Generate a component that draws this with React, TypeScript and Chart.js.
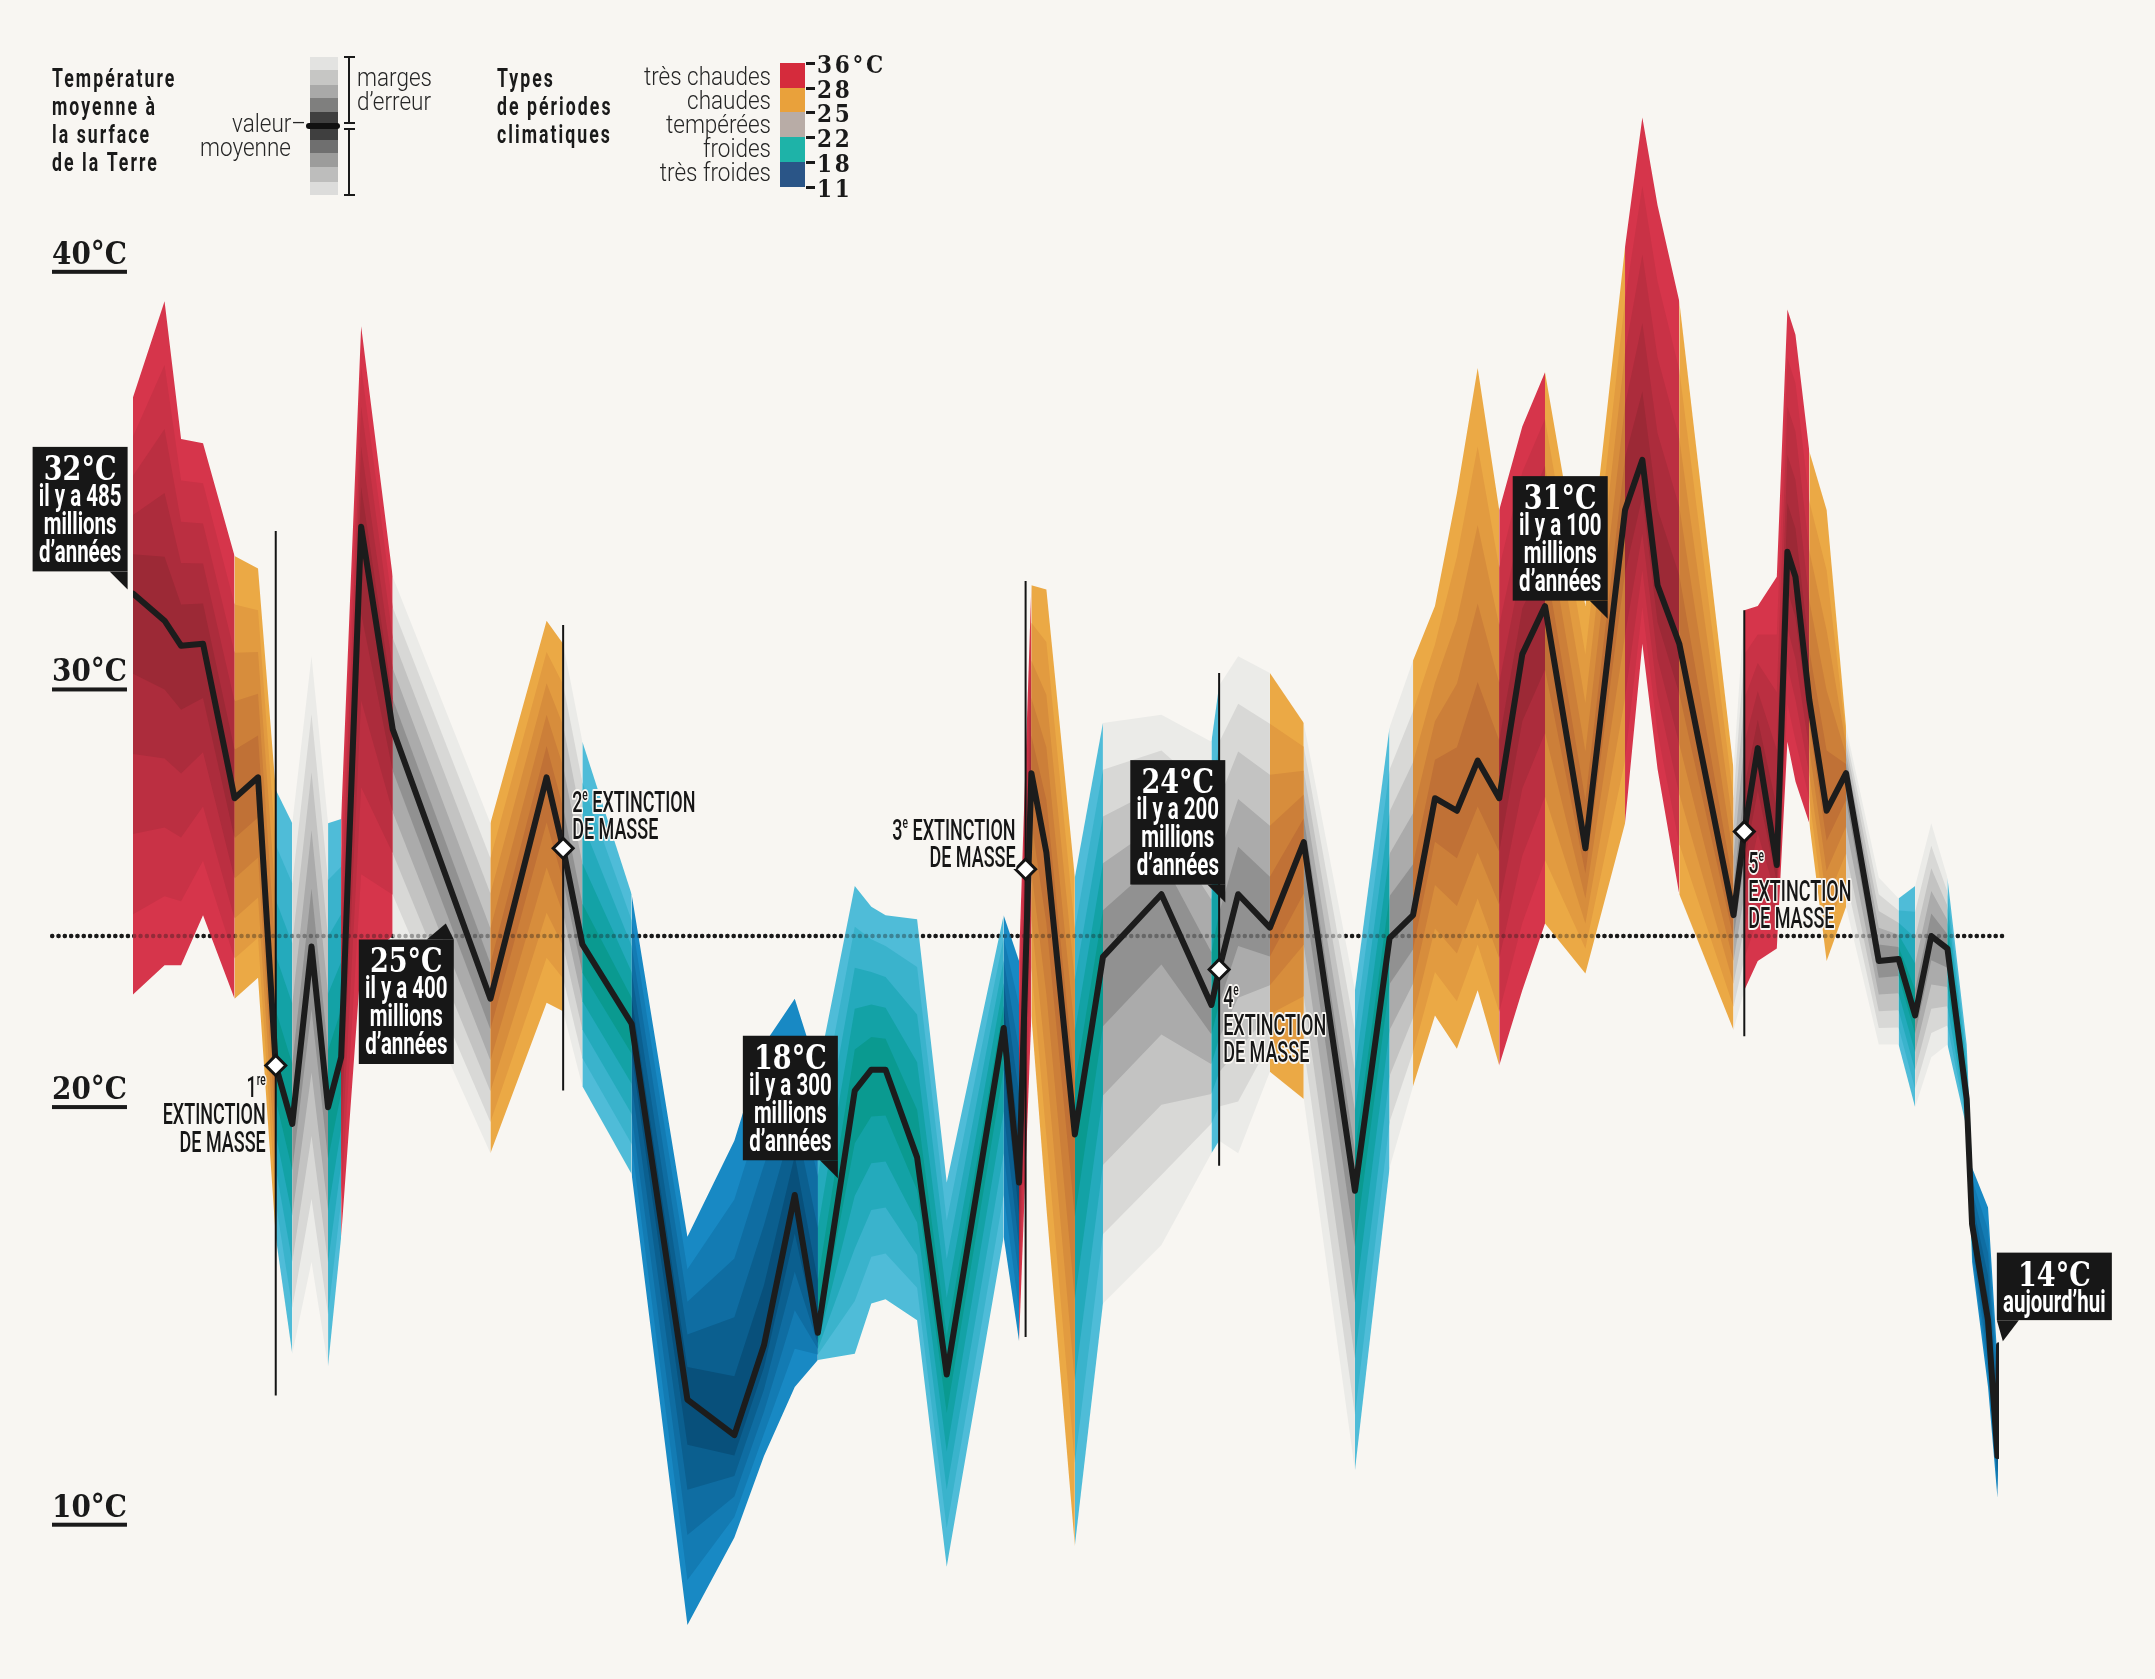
import React, { useEffect, useRef } from "react";
import { Chart, registerables } from "chart.js";

Chart.register(...registerables);

// ---------------- DATA ----------------
// Age in millions of years before present
const ages = [
  485.0, 476.8, 472.5, 466.8, 458.6, 452.5, 447.9, 443.6, 438.6, 434.3,
  430.9, 425.7, 417.5, 392.1, 377.5, 373.2, 368.2, 355.4, 340.9, 328.7,
  321.0, 313.0, 307.0, 297.4, 293.1, 289.4, 281.2, 273.5, 258.7, 254.7,
  251.5, 247.6, 240.2, 232.9, 217.7, 204.7, 202.7, 197.75, 189.5, 180.7,
  167.4, 158.4, 152.3, 146.6, 140.9, 135.5, 129.9, 123.9, 118.0, 107.5,
  97.2, 92.7, 88.75, 83.1, 69.0, 66.2, 62.7, 57.75, 55.0, 52.9,
  49.3, 44.8, 39.75, 31.25, 26.1, 21.8, 17.6, 13.4, 8.4, 7.0,
  2.85, 0.4, 0,
];
// Mean surface temperature (°C)
const temps = [
  32.2, 31.55, 30.95, 31.0, 27.3, 27.8, 20.9, 19.5, 23.75, 19.9,
  21.1, 33.8, 28.95, 22.5, 27.8, 26.1, 23.8, 21.9, 12.9, 12.05,
  14.2, 17.8, 14.5, 20.3, 20.8, 20.8, 18.7, 13.5, 21.8, 18.1,
  27.9, 26.0, 19.25, 23.5, 25.0, 22.35, 23.2, 25.0, 24.2, 26.25,
  17.9, 23.95, 24.5, 27.3, 27.0, 28.2, 27.3, 30.75, 31.9, 26.1,
  34.2, 35.4, 32.4, 31.0, 24.5, 26.5, 28.5, 25.7, 33.2, 32.6,
  29.65, 27.0, 27.9, 23.4, 23.45, 22.1, 24.0, 23.7, 20.1, 17.1,
  14.8, 11.55, 14.2,
];
// Upper error margin (°C)
const upperBound = [
  36.9, 39.2, 35.9, 35.8, 33.1, 32.8, 27.5, 26.7, 30.7, 26.7,
  26.8, 38.6, 32.6, 26.7, 31.55, 31.0, 28.65, 25.0, 16.8, 19.1,
  21.4, 22.5, 20.75, 25.2, 24.7, 24.5, 24.4, 18.1, 24.5, 23.4,
  32.4, 32.3, 25.4, 29.1, 29.3, 28.65, 30.0, 30.7, 30.3, 29.1,
  22.7, 29.0, 30.6, 31.9, 34.6, 37.6, 34.2, 36.2, 37.5, 31.9,
  40.5, 43.6, 41.5, 39.2, 28.0, 31.8, 31.9, 32.6, 39.0, 38.4,
  35.6, 34.2, 29.0, 25.4, 24.9, 25.2, 26.7, 25.4, 21.4, 18.45,
  17.5, 13.85, 14.2,
];
// Lower error margin (°C)
const lowerBound = [
  22.6, 23.3, 23.3, 24.5, 22.5, 23.0, 16.8, 14.0, 16.2, 13.7,
  16.8, 23.4, 24.0, 18.8, 22.4, 22.2, 20.4, 18.3, 7.5, 9.6,
  11.55, 13.2, 13.85, 14.0, 15.2, 15.3, 14.8, 8.9, 16.8, 14.3,
  22.1, 17.5, 9.4, 15.2, 16.6, 18.8, 19.1, 18.8, 20.75, 20.1,
  11.2, 18.45, 20.4, 22.1, 21.3, 22.7, 20.9, 22.7, 24.3, 23.1,
  26.7, 31.0, 28.0, 25.0, 21.75, 22.7, 23.4, 23.7, 28.65, 27.7,
  26.7, 23.4, 24.7, 21.4, 21.4, 19.9, 21.1, 21.4, 19.4, 16.2,
  13.2, 10.55, 14.2,
];
// Climate type of each segment (tc = très chaud, c = chaud, t = tempéré, f = froid, tf = très froid)
const periods = [
  "tc", "tc", "tc", "tc", "c", "c", "f", "t", "t", "f",
  "tc", "tc", "t", "c", "c", "t", "f", "tf", "tf", "tf",
  "tf", "tf", "f", "f", "f", "f", "f", "f", "tf", "tc",
  "c", "c", "f", "t", "t", "f", "t", "t", "c", "t",
  "f", "t", "c", "c", "c", "c", "tc", "tc", "c", "c",
  "tc", "tc", "tc", "c", "t", "tc", "tc", "tc", "tc", "tc",
  "c", "c", "t", "t", "f", "t", "t", "f", "f", "tf",
  "tf", "tf",
];

const yTicks = [40, 30, 20, 10];
const referenceTemp = 24;
const referenceSpan = [506, -1];

const extinctionAges = [447.9, 373.2, 253.0, 202.7, 66.2];
const extinctionTemps = [20.9, 26.1, 25.6, 23.2, 26.5];
const extinctionTops = [33.7, 31.45, 32.5, 30.3, 31.8];
const extinctionBottoms = [13.0, 20.3, 14.4, 18.5, 21.6];
const extinctionOrdinals = ["1", "2", "3", "4", "5"];
const extinctionSup = ["re", "e", "e", "e", "e"];
const extLabelAlign = ["right", "left", "right", "left", "left"];
const extLabelStacked = [true, false, false, true, true];
const extLabelTemps = [20.15, 26.97, 26.3, 22.3, 25.5];

const calloutTemps = ["32°C", "25°C", "18°C", "24°C", "31°C", "14°C"];
const calloutLines = [
  ["il y a 485", "millions", "d’années"],
  ["il y a 400", "millions", "d’années"],
  ["il y a 300", "millions", "d’années"],
  ["il y a 200", "millions", "d’années"],
  ["il y a 100", "millions", "d’années"],
  ["aujourd’hui"],
];
const calloutTipAges = [486.4, 403.7, 301.8, 201.1, 101.7, -1.0];
const calloutTipTemps = [32.3, 24.3, 18.2, 24.8, 31.6, 14.3];
const calloutPointer = ["br", "tr", "br", "br", "br", "bl"];

const legendTitle1 = ["Température", "moyenne à", "la surface", "de la Terre"];
const legendTitle2 = ["Types", "de périodes", "climatiques"];
const periodNames = ["très chaudes", "chaudes", "tempérées", "froides", "très froides"];
const periodLimits = ["36°C", "28", "25", "22", "18", "11"];

// ---------------- STYLE ----------------
const W = 2155;
const H = 1679;
const BG = "#f8f6f2";
const INK = "#1a1a1a";
const SHADES: Record<string, string[]> = {
  tc: ["#d6354b", "#c93246", "#bb2f41", "#ac2c3c", "#9c2936"],
  c: ["#eba945", "#e29b40", "#d78d3c", "#cc7f39", "#c07136"],
  t: ["#ebebe8", "#d8d8d6", "#c3c3c2", "#ababab", "#919191"],
  f: ["#4fbcd8", "#3ab3cc", "#24aabc", "#13a2a6", "#0a9a90"],
  tf: ["#1889c4", "#137bb3", "#0f6da2", "#0b5f8f", "#08507b"],
};
const LEGEND_COLORS = ["#d52b3c", "#e9a13b", "#b8aca6", "#1eb3a8", "#2a5587"];
const FRACTIONS = [1, 0.8, 0.6, 0.4, 0.2];

const SERIF = (px: number) => `bold ${px}px "DejaVu Serif"`;
const SANS = (w: number, px: number) => `${w} ${px}px Roboto, "Liberation Sans", sans-serif`;

function drawText(
  ctx: CanvasRenderingContext2D, s: string, x: number, y: number, font: string, color: string,
  align: CanvasTextAlign = "left", sx = 1, spacing = 0, outline = 0
) {
  ctx.save();
  ctx.font = font;
  (ctx as any).letterSpacing = spacing ? `${spacing}px` : "0px";
  ctx.textAlign = align;
  ctx.textBaseline = "alphabetic";
  ctx.translate(x, y);
  ctx.scale(sx, 1);
  if (outline) {
    ctx.strokeStyle = BG;
    ctx.lineWidth = outline;
    ctx.lineJoin = "round";
    ctx.strokeText(s, 0, 0);
  }
  ctx.fillStyle = color;
  ctx.fillText(s, 0, 0);
  ctx.restore();
}

function textWidth(ctx: CanvasRenderingContext2D, s: string, font: string, sx = 1, spacing = 0) {
  ctx.save();
  ctx.font = font;
  (ctx as any).letterSpacing = spacing ? `${spacing}px` : "0px";
  const w = ctx.measureText(s).width * sx;
  ctx.restore();
  return w;
}

type Part = { s: string; sup?: boolean };
function drawRich(ctx: CanvasRenderingContext2D, parts: Part[], x: number, y: number, align: string) {
  const F = SANS(500, 30);
  const FS = SANS(500, 17);
  const SX = 0.6;
  const widths = parts.map((p) => textWidth(ctx, p.s, p.sup ? FS : F, SX));
  const total = widths.reduce((a, b) => a + b, 0);
  let cx = align === "right" ? x - total : x;
  parts.forEach((p, i) => {
    drawText(ctx, p.s, cx, p.sup ? y - 12 : y, p.sup ? FS : F, "#161616", "left", SX, 0, 4);
    cx += widths[i];
  });
}

function drawLegend(ctx: CanvasRenderingContext2D) {
  const TITLE = SANS(700, 26);
  const LIGHT = SANS(300, 25);
  legendTitle1.forEach((s, i) => drawText(ctx, s, 52, 87 + i * 28, TITLE, INK, "left", 0.68, 3));
  drawText(ctx, "valeur–", 306, 132, LIGHT, "#262626", "right", 0.9);
  drawText(ctx, "moyenne", 291, 156, LIGHT, "#262626", "right", 0.9);

  const grays = ["#e3e3e1", "#c6c6c4", "#a9a9a8", "#7f7f7e", "#3f3f3f", "#3f3f3f", "#6f6f6f", "#9c9c9b", "#bdbdbc", "#dcdcdb"];
  const edges = [57, 70, 85, 98, 112, 126, 140, 153, 167, 182, 195];
  grays.forEach((g, i) => {
    ctx.fillStyle = g;
    ctx.fillRect(310, edges[i], 28, edges[i + 1] - edges[i]);
  });
  ctx.fillStyle = "#111";
  ctx.beginPath();
  (ctx as any).roundRect ? (ctx as any).roundRect(306, 123, 34, 6, 3) : ctx.rect(306, 123, 34, 6);
  ctx.fill();

  ctx.strokeStyle = INK;
  ctx.lineWidth = 2;
  ctx.beginPath();
  ctx.moveTo(349, 57); ctx.lineTo(349, 123);
  ctx.moveTo(344, 57); ctx.lineTo(355, 57);
  ctx.moveTo(344, 123); ctx.lineTo(355, 123);
  ctx.moveTo(349, 129); ctx.lineTo(349, 195);
  ctx.moveTo(344, 129); ctx.lineTo(355, 129);
  ctx.moveTo(344, 195); ctx.lineTo(355, 195);
  ctx.stroke();
  drawText(ctx, "marges", 357, 86, LIGHT, "#262626", "left", 0.9);
  drawText(ctx, "d’erreur", 357, 110, LIGHT, "#262626", "left", 0.9);

  legendTitle2.forEach((s, i) => drawText(ctx, s, 497, 87 + i * 28, TITLE, INK, "left", 0.68, 3));

  const cEdges = [63, 88, 112, 137, 162, 187];
  periodNames.forEach((s, i) => {
    drawText(ctx, s, 771, 85 + i * 24, LIGHT, "#262626", "right", 0.9);
    ctx.fillStyle = LEGEND_COLORS[i];
    ctx.fillRect(780, cEdges[i], 25, cEdges[i + 1] - cEdges[i]);
  });
  periodLimits.forEach((s, i) => {
    ctx.fillStyle = INK;
    ctx.fillRect(806, cEdges[i] - 1, 9, 3);
    ctx.save();
    ctx.font = SERIF(24);
    (ctx as any).letterSpacing = "3px";
    ctx.textBaseline = "middle";
    ctx.textAlign = "left";
    ctx.translate(817, cEdges[i] + 4);
    ctx.scale(0.9, 1);
    ctx.fillStyle = INK;
    ctx.fillText(s, 0, 0);
    ctx.restore();
  });
}

const annotationPlugin = {
  id: "annotations",
  afterDatasetsDraw(chart: any) {
    const ctx: CanvasRenderingContext2D = chart.ctx;
    const xs = chart.scales.x;
    const ys = chart.scales.y;

    // y labels
    const YF = SERIF(31);
    yTicks.forEach((v) => {
      const py = ys.getPixelForValue(v);
      const label = `${v}°C`;
      const w = textWidth(ctx, label, YF, 0.9);
      drawText(ctx, label, 52, py - 4, YF, INK, "left", 0.9);
      ctx.fillStyle = INK;
      ctx.fillRect(52, py + 2, w, 4);
    });

    // extinction labels
    extinctionAges.forEach((age, i) => {
      const vx = xs.getPixelForValue(age);
      const by = ys.getPixelForValue(extLabelTemps[i]);
      const right = extLabelAlign[i] === "right";
      const lx = right ? vx - 10 : vx + (extLabelStacked[i] ? 4 : 9);
      const lines: Part[][] = extLabelStacked[i]
        ? [[{ s: extinctionOrdinals[i] }, { s: extinctionSup[i], sup: true }], [{ s: "EXTINCTION" }], [{ s: "DE MASSE" }]]
        : [[{ s: extinctionOrdinals[i] }, { s: extinctionSup[i], sup: true }, { s: " EXTINCTION" }], [{ s: "DE MASSE" }]];
      lines.forEach((ln, j) => drawRich(ctx, ln, lx, by + j * 27.5, right ? "right" : "left"));
    });

    // callouts
    const CT = SERIF(33);
    const CS = SANS(700, 31);
    const CSX = 0.66;
    calloutTemps.forEach((t, i) => {
      const tx = xs.getPixelForValue(calloutTipAges[i]);
      const ty = ys.getPixelForValue(calloutTipTemps[i]);
      const lines = calloutLines[i];
      const wMax = Math.max(textWidth(ctx, t, CT, 0.82), ...lines.map((l) => textWidth(ctx, l, CS, CSX)));
      const bw = Math.round(wMax + 12);
      const bh = 39 + lines.length * 28.5;
      let bx = 0;
      let by = 0;
      ctx.fillStyle = "#171717";
      ctx.beginPath();
      const p = calloutPointer[i];
      if (p === "br") {
        bx = tx - bw; by = ty - 18 - bh;
        ctx.moveTo(tx - 18, by + bh); ctx.lineTo(tx, by + bh); ctx.lineTo(tx, ty);
      } else if (p === "tr") {
        bx = tx + 8 - bw; by = ty + 16;
        ctx.moveTo(bx + bw - 27, by); ctx.lineTo(bx + bw, by); ctx.lineTo(tx, ty);
      } else {
        bx = tx - 6; by = ty - 21 - bh;
        ctx.moveTo(bx, by + bh); ctx.lineTo(bx + 22, by + bh); ctx.lineTo(tx, ty);
      }
      ctx.closePath();
      ctx.fill();
      ctx.fillRect(bx, by, bw, bh);
      const cx = bx + bw / 2;
      drawText(ctx, t, cx, by + 33, CT, "#ffffff", "center", 0.82);
      lines.forEach((l, j) => drawText(ctx, l, cx, by + 59 + j * 28, CS, "#ffffff", "center", CSX));
    });

    drawLegend(ctx);
  },
};

function buildDatasets() {
  const datasets: any[] = [];
  // dotted reference line under the bands
  const refData = referenceSpan.map((a) => ({ x: a, y: referenceTemp }));
  datasets.push({
    data: refData, borderColor: "#1a1a1a", borderWidth: 4.5, borderDash: [0.01, 6.3],
    borderCapStyle: "round", pointRadius: 0, fill: false, clip: false, order: 30,
  });
  FRACTIONS.forEach((f, k) => {
    const up = ages.map((a, i) => ({ x: a, y: temps[i] + f * (upperBound[i] - temps[i]) }));
    const lo = ages.map((a, i) => ({ x: a, y: temps[i] - f * (temps[i] - lowerBound[i]) }));
    const upIndex = datasets.length;
    datasets.push({
      data: up, borderWidth: 0, pointRadius: 0, tension: 0,
      backgroundColor: SHADES.t[k],
      fill: upIndex + 1,
      segment: { backgroundColor: (c: any) => SHADES[periods[c.p0DataIndex]][k] },
      order: 10 - k,
    });
    datasets.push({ data: lo, borderWidth: 0, pointRadius: 0, fill: false, order: 25 });
  });
  // faint dotted line over the bands
  datasets.push({
    data: refData, borderColor: "rgba(25,25,25,0.35)", borderWidth: 4.5, borderDash: [0.01, 6.3],
    borderCapStyle: "round", pointRadius: 0, fill: false, clip: false, order: 2,
  });
  extinctionAges.forEach((a, i) => {
    datasets.push({
      data: [{ x: a, y: extinctionTops[i] }, { x: a, y: extinctionBottoms[i] }],
      borderColor: "#141414", borderWidth: 2, pointRadius: 0, fill: false, order: 1,
    });
  });
  datasets.push({
    data: ages.map((a, i) => ({ x: a, y: temps[i] })),
    borderColor: "#1c1c1c", borderWidth: 6, pointRadius: 0, fill: false, tension: 0,
    borderJoinStyle: "round", borderCapStyle: "round", order: 0,
  });
  datasets.push({
    data: extinctionAges.map((a, i) => ({ x: a, y: extinctionTemps[i] })),
    showLine: false, pointStyle: "rectRot", pointRadius: 10, pointBackgroundColor: "#ffffff",
    pointBorderColor: "#141414", pointBorderWidth: 3, fill: false, clip: false, order: -1,
  });
  return datasets;
}

export default function App() {
  const ref = useRef<HTMLCanvasElement>(null);
  useEffect(() => {
    document.body.style.margin = "0";
    document.body.style.overflow = "hidden";
    const canvas = ref.current!;
    const chart = new Chart(canvas, {
      type: "line",
      data: { datasets: buildDatasets() },
      options: {
        responsive: false,
        maintainAspectRatio: false,
        devicePixelRatio: 1,
        animation: false,
        events: [],
        layout: { padding: { left: 133, right: 156, top: 59, bottom: 33 } },
        scales: {
          x: { type: "linear", min: 0, max: 485, reverse: true, display: false },
          y: { type: "linear", min: 7, max: 45, display: false },
        },
        plugins: { legend: { display: false }, tooltip: { enabled: false }, title: { display: false } },
      } as any,
      plugins: [annotationPlugin],
    });
    return () => chart.destroy();
  }, []);
  return (
    <div style={{ position: "absolute", left: 0, top: 0, width: W, height: H, background: BG }}>
      <canvas ref={ref} width={W} height={H} style={{ display: "block", width: W, height: H }} />
    </div>
  );
}
